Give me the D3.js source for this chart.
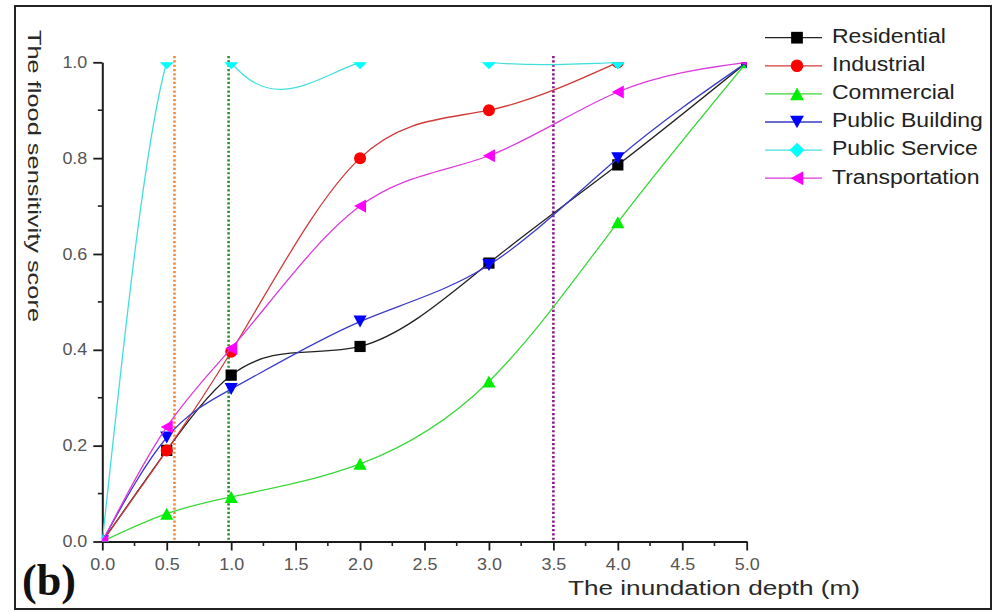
<!DOCTYPE html>
<html>
<head>
<meta charset="utf-8">
<script src="https://cdn.jsdelivr.net/npm/d3@7"></script>
<style>
  html, body { margin: 0; padding: 0; background: #fff; }
  svg { display: block; }
  text { font-family: "Liberation Sans", Arial, sans-serif; }
</style>
</head>
<body>
<svg id="chart" width="1003" height="612"></svg>
<script>
// ---- data -------------------------------------------------------------
const depths = [0, 0.5, 1, 2, 3, 4, 5];           // inundation depth (m)
const residential    = [0, 0.19, 0.347, 0.407, 0.581, 0.786, 1.0];
const industrial     = [0, 0.19, 0.396, 0.80, 0.90, 1.0];
const commercial     = [0, 0.058, 0.093, 0.162, 0.334, 0.666, 1.0];
const publicBuilding = [0, 0.217, 0.318, 0.459, 0.577, 0.80, 1.0];
const publicService  = [0, 1.0, 1.0, 1.0, 1.0, 1.0];
const transportation = [0, 0.239, 0.403, 0.70, 0.805, 0.938, 1.0];

const seriesNames = ["Residential", "Industrial", "Commercial", "Public Building", "Public Service", "Transportation"];
const seriesValues = [residential, industrial, commercial, publicBuilding, publicService, transportation];

const refDepths = [0.56, 0.98, 3.5];               // vertical reference lines
const xTicks = [0, 0.5, 1, 1.5, 2, 2.5, 3, 3.5, 4, 4.5, 5];
const yTicks = [0, 0.2, 0.4, 0.6, 0.8, 1.0];

// ---- styles -----------------------------------------------------------
const lineColors   = ["#222222", "#d23a3a", "#3ad83a", "#3a3ac8", "#45dede", "#dc3adc"];
const markerColors = ["#000000", "#ff0000", "#00ee00", "#0000ff", "#00ffff", "#ff00ff"];
const markerShapes = ["square", "circle", "triangleUp", "triangleDown", "diamond", "triangleLeft"];
const refColors = ["#f08a3a", "#2f8f2f", "#8a1a8a"];

// ---- layout -----------------------------------------------------------
const svg = d3.select("#chart");
const x = d3.scaleLinear().domain([0, 5]).range([102.3, 746.7]);
const y = d3.scaleLinear().domain([0, 1]).range([541.5, 62.3]);

// stretch text horizontally to a given width
function fitText(sel, width) {
  sel.attr("textLength", width).attr("lengthAdjust", "spacingAndGlyphs");
}

// outer frame
svg.append("rect")
  .attr("x", 15).attr("y", 6).attr("width", 976).attr("height", 603)
  .attr("fill", "none").attr("stroke", "#222").attr("stroke-width", 2);

// natural cubic spline in x, emitted as cubic Béziers
function splineSlopes(X, Y) {
  const n = X.length, h = [], M = new Array(n).fill(0);
  for (let i = 0; i < n - 1; i++) h.push(X[i + 1] - X[i]);
  const cp = [], dp = [];
  for (let i = 1; i < n - 1; i++) {
    const a = h[i - 1], b = 2 * (h[i - 1] + h[i]), c = h[i];
    const d = 6 * ((Y[i + 1] - Y[i]) / h[i] - (Y[i] - Y[i - 1]) / h[i - 1]);
    if (i === 1) { cp[i] = c / b; dp[i] = d / b; }
    else {
      const den = b - a * cp[i - 1];
      cp[i] = c / den; dp[i] = (d - a * dp[i - 1]) / den;
    }
  }
  if (n > 2) {
    M[n - 2] = dp[n - 2];
    for (let i = n - 3; i >= 1; i--) M[i] = dp[i] - cp[i] * M[i + 1];
  }
  const s = [];
  for (let i = 0; i < n - 1; i++) s[i] = (Y[i + 1] - Y[i]) / h[i] - h[i] * (2 * M[i] + M[i + 1]) / 6;
  s[n - 1] = (Y[n - 1] - Y[n - 2]) / h[n - 2] + h[n - 2] * (M[n - 2] + 2 * M[n - 1]) / 6;
  return s;
}
function SplineX(context) { this._context = context; }
SplineX.prototype = {
  areaStart() { this._line = 0; },
  areaEnd() { this._line = NaN; },
  lineStart() { this._x = []; this._y = []; },
  point(px, py) { this._x.push(+px); this._y.push(+py); },
  lineEnd() {
    const X = this._x, Y = this._y, n = X.length, ctx = this._context;
    if (n) {
      this._line ? ctx.lineTo(X[0], Y[0]) : ctx.moveTo(X[0], Y[0]);
      if (n === 2) ctx.lineTo(X[1], Y[1]);
      else if (n > 2) {
        const s = splineSlopes(X, Y);
        for (let i = 0; i < n - 1; i++) {
          const h = X[i + 1] - X[i];
          ctx.bezierCurveTo(X[i] + h / 3, Y[i] + s[i] * h / 3,
                            X[i + 1] - h / 3, Y[i + 1] - s[i + 1] * h / 3,
                            X[i + 1], Y[i + 1]);
        }
      }
    }
    if (this._line || (this._line !== 0 && n === 1)) ctx.closePath();
    this._line = 1 - this._line;
    this._x = this._y = null;
  }
};
const curveSplineX = ctx => new SplineX(ctx);

// marker shapes
function markerPath(shape, cx, cy, k) {
  const p = d3.path();
  if (shape === "square") { const r = 5.6 * k; p.rect(cx - r, cy - r, 2 * r, 2 * r); }
  else if (shape === "circle") { p.arc(cx, cy, 6 * k, 0, 2 * Math.PI); }
  else if (shape === "triangleUp") { const w = 6.6 * k, hh = 6 * k; p.moveTo(cx, cy - hh); p.lineTo(cx + w, cy + hh); p.lineTo(cx - w, cy + hh); p.closePath(); }
  else if (shape === "triangleDown") { const w = 6.6 * k, hh = 6 * k; p.moveTo(cx, cy + hh); p.lineTo(cx + w, cy - hh); p.lineTo(cx - w, cy - hh); p.closePath(); }
  else if (shape === "triangleLeft") { const w = 6 * k, hh = 6.6 * k; p.moveTo(cx - w, cy); p.lineTo(cx + w, cy - hh); p.lineTo(cx + w, cy + hh); p.closePath(); }
  else if (shape === "diamond") { const r = 7 * k; p.moveTo(cx, cy - r); p.lineTo(cx + r, cy); p.lineTo(cx, cy + r); p.lineTo(cx - r, cy); p.closePath(); }
  return p.toString();
}

// ---- axes -------------------------------------------------------------
const fmt = d3.format(".1f");
const xMinor = d3.range(0.25, 5, 0.5);
const yMinor = d3.range(0.1, 1, 0.2);

const xAxisG = svg.append("g").attr("transform", `translate(0,${y(0)})`);
xAxisG.call(d3.axisBottom(x).tickValues(xTicks).tickSize(9).tickSizeOuter(0).tickFormat(fmt).tickPadding(8));
xAxisG.append("g").selectAll("line").data(xMinor).join("line")
  .attr("x1", d => x(d)).attr("x2", d => x(d)).attr("y1", 0).attr("y2", 4.5)
  .attr("stroke", "#222").attr("stroke-width", 1.6);

const yAxisG = svg.append("g").attr("transform", `translate(${x(0)},0)`);
yAxisG.call(d3.axisLeft(y).tickValues(yTicks).tickSize(9).tickSizeOuter(0).tickFormat(fmt).tickPadding(6));
yAxisG.append("g").selectAll("line").data(yMinor).join("line")
  .attr("y1", d => y(d)).attr("y2", d => y(d)).attr("x1", 0).attr("x2", -4.5)
  .attr("stroke", "#222").attr("stroke-width", 1.6);

[xAxisG, yAxisG].forEach(g => {
  g.select(".domain").attr("stroke", "#1a1a1a").attr("stroke-width", 2);
  g.selectAll(".tick line").attr("stroke", "#1a1a1a").attr("stroke-width", 1.8);
  g.selectAll(".tick text").attr("fill", "#555").attr("font-size", 16)
    .style("font-family", "'Liberation Sans', Arial, sans-serif")
    .each(function () { fitText(d3.select(this), this.getComputedTextLength() * 1.12); });
});

// axis titles
svg.append("text")
  .attr("x", 568).attr("y", 595)
  .attr("font-size", 20).attr("fill", "#2a2a2a")
  .text("The inundation depth (m)")
  .call(fitText, 292);

svg.append("text")
  .attr("transform", "translate(27.5,30) rotate(90)")
  .attr("font-size", 18).attr("fill", "#2a2a2a")
  .text("The flood sensitivity score")
  .call(fitText, 292);

// panel label
svg.append("text")
  .attr("x", 22).attr("y", 595)
  .style("font-family", "'Liberation Serif', 'Times New Roman', serif")
  .attr("font-weight", "bold").attr("font-size", 45).attr("fill", "#111")
  .text("(b)")
  .call(fitText, 54);

// ---- plot -------------------------------------------------------------
svg.append("clipPath").attr("id", "plotClip")
  .append("rect")
  .attr("x", x(0)).attr("y", y(1))
  .attr("width", x(5) - x(0)).attr("height", y(0) - y(1));

// dotted reference lines
svg.append("g").selectAll("line").data(refDepths).join("line")
  .attr("x1", d => x(d)).attr("x2", d => x(d))
  .attr("y1", y(1.013)).attr("y2", y(0))
  .attr("stroke", (d, i) => refColors[i])
  .attr("stroke-width", 2.6)
  .attr("stroke-dasharray", "2.2,2.1");

const plot = svg.append("g").attr("clip-path", "url(#plotClip)");
const line = d3.line().x(d => x(d[0])).y(d => y(d[1])).curve(curveSplineX);

seriesValues.forEach((vals, i) => {
  const pts = vals.map((v, j) => [depths[j], v]);
  const g = plot.append("g");
  g.append("path").attr("d", line(pts))
    .attr("fill", "none").attr("stroke", lineColors[i]).attr("stroke-width", 1.3);
  g.selectAll("path.m").data(pts).join("path").attr("class", "m")
    .attr("d", d => markerPath(markerShapes[i], x(d[0]), y(d[1]), 1))
    .attr("fill", markerColors[i]);
});

// ---- legend -----------------------------------------------------------
const legend = svg.append("g");
seriesNames.forEach((name, i) => {
  const cy = 37.7 + i * 28.1;
  legend.append("line")
    .attr("x1", 765).attr("x2", 822).attr("y1", cy).attr("y2", cy)
    .attr("stroke", lineColors[i]).attr("stroke-width", 1.3);
  legend.append("path")
    .attr("d", markerPath(markerShapes[i], 797, cy, 1.05))
    .attr("fill", markerColors[i]);
  legend.append("text")
    .attr("x", 832).attr("y", cy + 5.3)
    .attr("font-size", 20).attr("fill", "#222")
    .text(name)
    .each(function () { fitText(d3.select(this), this.getComputedTextLength() * 1.15); });
});
</script>
</body>
</html>
